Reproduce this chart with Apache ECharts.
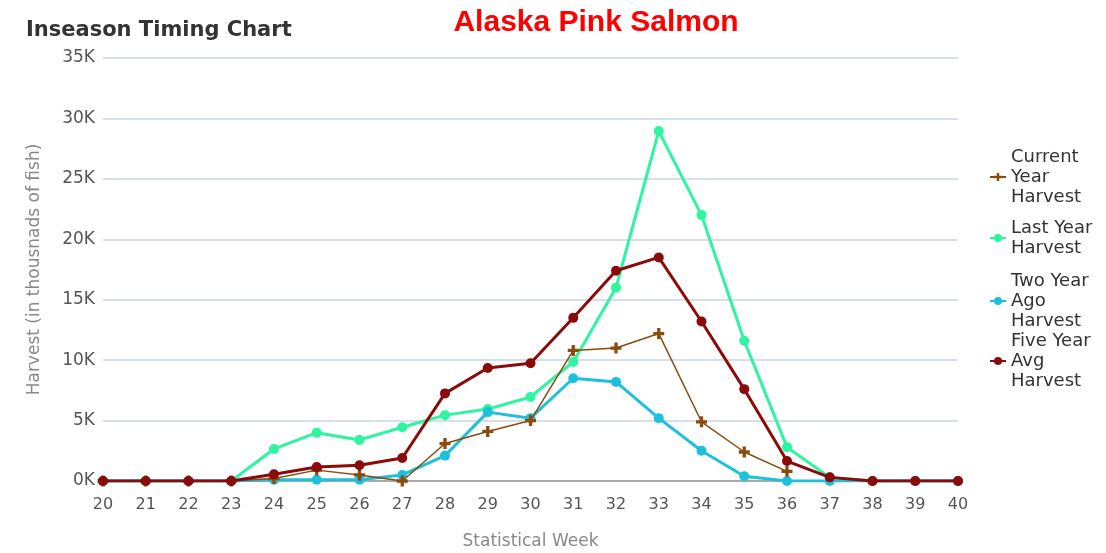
<!DOCTYPE html>
<html><head><meta charset="utf-8">
<script src="https://cdn.jsdelivr.net/npm/echarts@6/dist/echarts.min.js"></script>
<style>html,body{margin:0;padding:0;background:#fff}#c{width:1106px;height:553px}</style>
</head><body><div id="c"></div>
<script>
const weeks = ['20','21','22','23','24','25','26','27','28','29','30','31','32','33','34','35','36','37','38','39','40'];
const currentYear = [0,0,0,0,0.2,0.9,0.5,0,3.1,4.1,5.0,10.8,11.0,12.2,4.9,2.4,0.8,null,null,null,null];
const lastYear = [0,0,0,0,2.65,4.0,3.4,4.45,5.45,5.95,6.95,9.85,16.0,28.95,22.0,11.6,2.8,0.3,0,0,0];
const twoYearAgo = [0,0,0,0,0.1,0.1,0.1,0.5,2.1,5.7,5.2,8.5,8.2,5.2,2.5,0.4,0,0,0,0,0];
const fiveYearAvg = [0,0,0,0,0.55,1.15,1.3,1.9,7.25,9.35,9.75,13.5,17.4,18.5,13.2,7.6,1.65,0.3,0,0,0];
const yTicks = [0,5000,10000,15000,20000,25000,30000,35000];
const seriesNames = ['Current Year Harvest','Last Year Harvest','Two Year Ago Harvest','Five Year Avg Harvest'];
const legendLabels = ['Current\nYear\nHarvest','Last Year\nHarvest','Two Year\nAgo\nHarvest','Five Year\nAvg\nHarvest'];
const colors = ['#8b4a0e','#2ef5a0','#1ec0dc','#8b0a0a'];

const plus = 'path://M3.5,0 L6.5,0 L6.5,3.5 L10,3.5 L10,6.5 L6.5,6.5 L6.5,10 L3.5,10 L3.5,6.5 L0,6.5 L0,3.5 L3.5,3.5 Z';
const toK = a => a.map(v => v == null ? null : v * 1000);
const dataSets = [currentYear, lastYear, twoYearAgo, fiveYearAvg];
const font = 'DejaVu Sans';
const legendTops = [142, 213, 266, 326];

const chart = echarts.init(document.getElementById('c'), null, {renderer:'canvas'});
chart.setOption({
  animation:false,
  textStyle:{fontFamily:font},
  title:[
    {text:'Inseason Timing Chart', left:21, top:15, textStyle:{fontFamily:font, fontWeight:'bold', fontSize:21, color:'#333'}},
    {text:'Alaska Pink Salmon', left:591, top:3, textAlign:'center', textStyle:{fontFamily:'Liberation Sans', fontWeight:'bold', fontSize:30, color:'#fe0000'}}
  ],
  legend: seriesNames.map((n,i)=>({
    data:[n], orient:'vertical', left:984, top:legendTops[i], itemWidth:16, itemHeight:10, itemGap:0,
    formatter:()=>legendLabels[i],
    textStyle:{fontFamily:font, fontSize:18, color:'#333', lineHeight:20}
  })),
  grid:{left:103, right:148, top:58, bottom:72, outerBoundsMode:'none', containLabel:false},
  xAxis:{
    type:'category', data:weeks, boundaryGap:false,
    name:'Statistical Week', nameLocation:'middle', nameGap:52,
    nameTextStyle:{fontFamily:font, fontSize:17, color:'#888'},
    axisLine:{lineStyle:{color:'#999', width:1.5}},
    axisTick:{show:false},
    axisLabel:{fontFamily:font, fontSize:16, color:'#555', margin:16}
  },
  yAxis:{
    type:'value', min:yTicks[0], max:yTicks[yTicks.length-1], interval:5000,
    name:'Harvest (in thousnads of fish)', nameLocation:'middle', nameGap:60,
    nameTextStyle:{fontFamily:font, fontSize:17, color:'#888'},
    axisLine:{show:false}, axisTick:{show:false},
    splitLine:{lineStyle:{color:'#cdd4df', width:1.5}},
    axisLabel:{fontFamily:font, fontSize:17, color:'#555', margin:8, formatter:v=>(v/1000)+'K'}
  },
  series: seriesNames.map((n,i)=>({
    name:n, type:'line', data:toK(dataSets[i]),
    color:colors[i],
    symbol: i===0 ? plus : 'circle',
    symbolSize: i===0 ? 11 : 10,
    showSymbol:true,
    lineStyle:{width: i===0 ? 1.5 : 3, color:colors[i]},
    itemStyle:{color:colors[i]},
    z: [5,3,4,6][i]
  }))
});
</script></body></html>
